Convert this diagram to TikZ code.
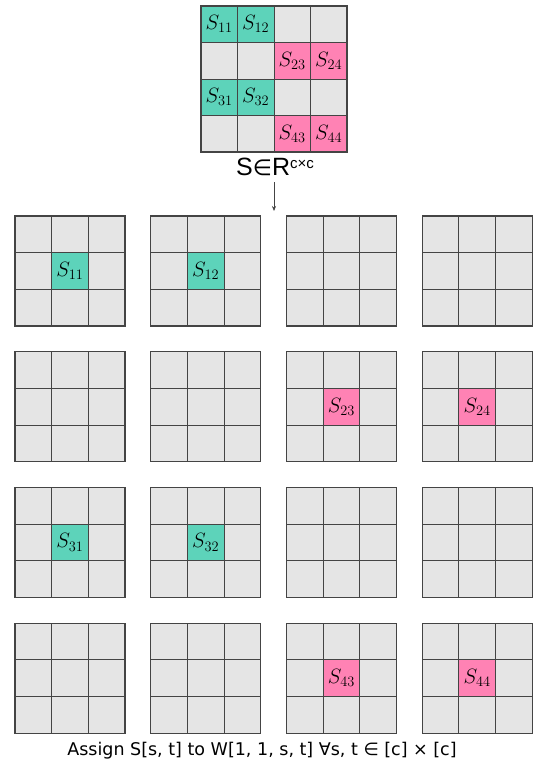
\documentclass[tikz,border=0pt]{standalone}
\usepackage{fontspec}
\newfontfamily\arialf{Liberation Sans}
\newfontfamily\verdf{DejaVu Sans}
\usetikzlibrary{arrows.meta}
\definecolor{teal1}{HTML}{5DD3BA}
\definecolor{pink1}{HTML}{FF82B4}
\definecolor{gray1}{HTML}{E5E5E5}
\definecolor{line1}{HTML}{444444}
\tikzset{
  cellbox/.style={draw=line1, line width=0.8pt, fill=gray1, minimum width=#1, minimum height=#1, inner sep=0pt, outer sep=0pt, anchor=north west, font=\fontsize{22}{26}\selectfont},
  cellbox/.default=36.5pt,
  tealc/.style={fill=teal1},
  pinkc/.style={fill=pink1},
  outerbox/.style={draw=line1, line width=1.1pt},
}
\begin{document}
\begin{tikzpicture}[x=1pt,y=-1pt]
\useasboundingbox (0,0) rectangle (535,765);
% top matrix
\foreach \i in {1,...,4}{
  \foreach \j in {1,...,4}{
    \node[cellbox] (T\i\j) at ({201+36.5*(\j-1)},{6+36.5*(\i-1)}) {};
  }
}
\foreach \i/\j in {1/1,1/2,3/1,3/2}{
  \node[cellbox, tealc] at ({201+36.5*(\j-1)},{6+36.5*(\i-1)}) {$S_{\i\j}$};
}
\foreach \i/\j in {2/3,2/4,4/3,4/4}{
  \node[cellbox, pinkc] at ({201+36.5*(\j-1)},{6+36.5*(\i-1)}) {$S_{\i\j}$};
}
\draw[outerbox] (T11.north west) rectangle (T44.south east);
% label
\node[font=\fontsize{25}{28}\selectfont\arialf, inner sep=0pt] (lab) at (275,167) {S{\verdf\fontsize{22}{26}\selectfont∈}R\raisebox{0.55ex}{\fontsize{15}{17}\selectfont c×c}};
\coordinate (arrend) at (274,211);
\draw[line1, line width=0.6pt, -{Stealth[length=5pt,width=4pt]}] (274,182) -- (arrend);
% small grids
\foreach \r in {1,...,4}{
  \foreach \c in {1,...,4}{
    \pgfmathsetmacro{\xo}{15+135.7*(\c-1)}
    \pgfmathsetmacro{\yo}{216+135.7*(\r-1)}
    \foreach \a in {1,...,3}{
      \foreach \b in {1,...,3}{
        \node[cellbox=36.67pt] (G\r\c-\a\b) at ({\xo+36.67*(\b-1)},{\yo+36.67*(\a-1)}) {};
      }
    }
    \draw[outerbox] (G\r\c-11.north west) rectangle (G\r\c-33.south east);
  }
}
\foreach \r/\c in {1/1,1/2,3/1,3/2}{
  \node[cellbox=36.67pt, tealc] at (G\r\c-22.north west) {$S_{\r\c}$};
}
\foreach \r/\c in {2/3,2/4,4/3,4/4}{
  \node[cellbox=36.67pt, pinkc] at (G\r\c-22.north west) {$S_{\r\c}$};
}
\node[font=\fontsize{17.5}{21}\selectfont\verdf, inner sep=0pt] (cap) at (262,751) {Assign S[s, t] to W[1, 1, s, t] ∀s, t ∈ [c] × [c]};
\end{tikzpicture}
\end{document}
